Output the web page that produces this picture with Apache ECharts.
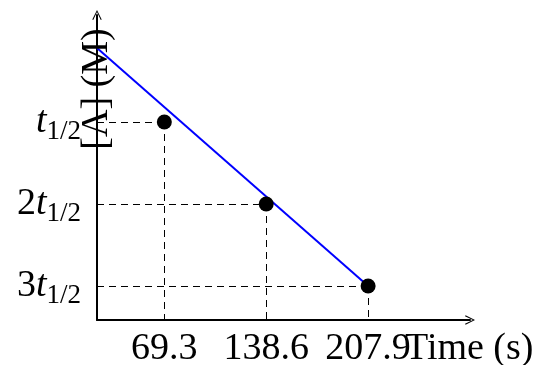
<!DOCTYPE html>
<html>
<head>
<meta charset="utf-8">
<script src="https://cdn.jsdelivr.net/npm/echarts@6/dist/echarts.min.js"></script>
<style>
  html, body { margin: 0; padding: 0; background: #fff; }
  #chart { width: 537px; height: 365px; }
</style>
</head>
<body>
<div id="chart"></div>
<script>
// values
const times = [69.3, 138.6, 207.9];
const conc = [1.98, 1.16, 0.34];
const yTickNames = ['t', '2t', '3t'];
const lineTimes = [23.5, 207.9];
const lineConc = [2.72, 0.34];
const xMin = 23.5, xMax = 277.2, yMax = 3.05;

const myChart = echarts.init(document.getElementById('chart'), null, { renderer: 'canvas' });

const serif = '"Liberation Serif", "DejaVu Serif", serif';
const arrowPath = 'path://M0,10 L5,0 L10,10 L9,10.6 L5,2.2 L1,10.6 Z';

const markData = [];
times.forEach((t, i) => {
  markData.push([{ coord: [xMin, conc[i]] }, { coord: [t, conc[i]] }]);
  markData.push([{ coord: [t, conc[i]] }, { coord: [t, 0] }]);
});

const yLabelMap = {};
conc.forEach((c, i) => { yLabelMap[c.toFixed(2)] = yTickNames[i]; });

const option = {
  animation: false,
  grid: { left: 97, right: 67, top: 15, bottom: 45, outerBoundsMode: 'none', containLabel: false },
  xAxis: {
    type: 'value',
    min: xMin,
    max: xMax,
    splitLine: { show: false },
    axisTick: { show: false },
    axisLine: {
      lineStyle: { color: '#000', width: 2 },
      symbol: ['none', arrowPath],
      symbolSize: [11, 10]
    },
    axisLabel: {
      customValues: times,
      formatter: v => v.toFixed(1),
      color: '#000',
      fontFamily: serif,
      fontSize: 38,
      margin: 10
    },
    name: 'Time (s)',
    nameLocation: 'end',
    nameGap: -65,
    nameMoveOverlap: false,
    nameTextStyle: {
      color: '#000',
      fontFamily: serif,
      fontSize: 38,
      align: 'left',
      verticalAlign: 'top',
      padding: [10, 0, 0, 0]
    }
  },
  yAxis: {
    type: 'value',
    min: 0,
    max: yMax,
    splitLine: { show: false },
    axisTick: { show: false },
    axisLine: {
      lineStyle: { color: '#000', width: 2 },
      symbol: ['none', arrowPath],
      symbolSize: [11, 10]
    },
    axisLabel: {
      customValues: conc,
      margin: 16,
      formatter: v => {
        const n = yLabelMap[v.toFixed(2)] || '';
        const pre = n.length > 1 ? '{n|' + n.slice(0, -1) + '}' : '';
        return pre + '{it|t}{sub|1/2}';
      },
      rich: {
        n: { fontFamily: serif, fontSize: 38, color: '#000', lineHeight: 38, verticalAlign: 'top' },
        it: { fontFamily: serif, fontSize: 38, fontStyle: 'italic', color: '#000', lineHeight: 38, verticalAlign: 'top' },
        sub: { fontFamily: serif, fontSize: 27, color: '#000', lineHeight: 27, verticalAlign: 'top', padding: [15, 0, 0, 0] }
      }
    }
  },
  graphic: [{
    type: 'text',
    x: 97,
    y: 89,
    rotation: Math.PI / 2,
    style: {
      text: '[A] (M)',
      font: '38px ' + serif,
      fill: '#000',
      align: 'center',
      verticalAlign: 'middle'
    },
    z: 10
  }],
  series: [
    {
      type: 'line',
      data: lineTimes.map((t, i) => [t, lineConc[i]]),
      symbol: 'none',
      lineStyle: { color: '#0000ff', width: 2 },
      z: 3
    },
    {
      type: 'scatter',
      data: times.map((t, i) => [t, conc[i]]),
      symbolSize: 15,
      itemStyle: { color: '#000', opacity: 1 },
      z: 4,
      markLine: {
        silent: true,
        symbol: ['none', 'none'],
        label: { show: false },
        lineStyle: { color: '#000', width: 1, type: [7, 5] },
        data: markData
      }
    }
  ]
};

myChart.setOption(option);
window.addEventListener('resize', () => myChart.resize());
</script>
</body>
</html>
